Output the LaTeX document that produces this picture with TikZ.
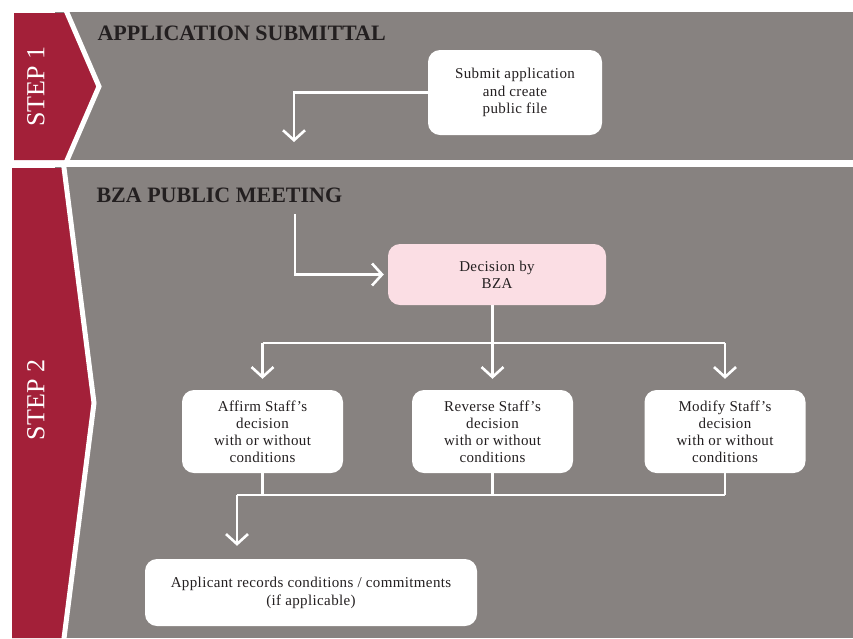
\documentclass[tikz,border=0pt]{standalone}
\usepackage{fontspec}
\setmainfont{Liberation Serif}
\newfontfamily\boxfamily[LetterSpace=2.5]{Liberation Serif}
\usetikzlibrary{arrows.meta}
\definecolor{bggray}{RGB}{135,130,128}
\definecolor{stepred}{RGB}{163,32,57}
\definecolor{pinkbox}{RGB}{251,222,228}
\definecolor{ink}{RGB}{35,31,32}
\newcommand{\boxfont}{\boxfamily\fontsize{15}{17}\selectfont}
\begin{document}
\begin{tikzpicture}[x=1pt,y=-1pt,
  box/.style={fill=white, rounded corners=12pt, align=center, font=\boxfont, text=ink, inner sep=0pt},
  wire/.style={white, line width=2.6pt},
  conn/.style={wire, -{Straight Barb[length=10pt,width=22pt]}},
  steplabel/.style={rotate=90, text=white, font=\fontsize{26}{26}\selectfont},
  title/.style={anchor=base west, text=ink, font=\bfseries\fontsize{22}{22}\selectfont}
]
\useasboundingbox (0,0) rectangle (853,638);
\fill[white] (0,0) rectangle (853,638);
% panels
\fill[bggray] (55,12) rectangle (853,160);
\fill[bggray] (55,167) rectangle (853,638);
% step chevrons
\fill[stepred] (14,13) -- (67,13) -- (99,86.5) -- (67,160) -- (14,160) -- cycle;
\draw[white, line width=5pt] (65,8) -- (99,86.5) -- (65,165);
\fill[stepred] (12,168) -- (64,168) -- (94,403) -- (64,638) -- (12,638) -- cycle;
\draw[white, line width=5pt] (63.4,163) -- (94,403) -- (63.4,643);
\node[steplabel] (step1) at (36,86.5) {STEP 1};
\node[steplabel] (step2) at (36,400) {STEP 2};
% titles
\node[title] (t1) at (94,40) {APPLICATION SUBMITTAL};
\node[title] (t2) at (93,202) {BZA PUBLIC MEETING};
% boxes
\node[box, minimum width=174pt, minimum height=85pt, font=\boxfamily\fontsize{15}{17.5}\selectfont] (submit) at (515,92.5) {Submit application\\and create\\public file};
\node[box, fill=pinkbox, minimum width=218pt, minimum height=61pt] (bza) at (497,274.5) {Decision by\\BZA};
\node[box, minimum width=161pt, minimum height=83pt] (affirm) at (262.5,431.5) {Affirm Staff’s\\decision\\with or without\\conditions};
\node[box, minimum width=161pt, minimum height=83pt] (reverse) at (492.5,431.5) {Reverse Staff’s\\decision\\with or without\\conditions};
\node[box, minimum width=161pt, minimum height=83pt] (modify) at (725,431.5) {Modify Staff’s\\decision\\with or without\\conditions};
\node[box, minimum width=332pt, minimum height=67pt, font=\boxfamily\fontsize{15}{18}\selectfont] (applicant) at (311,592.5) {Applicant records conditions / commitments\\(if applicable)};
% connectors
\coordinate (s1end) at (294,142);
\draw[conn] (submit.west) -| (s1end);
\coordinate (s2start) at (295,214);
\draw[conn, shorten >=4pt] (s2start) |- (bza.west);
\coordinate (split) at (492.5,343);
\draw[conn, shorten >=11pt] (bza.south -| reverse.north) -- (reverse.north);
\draw[wire] (affirm.north |- split) -- (modify.north |- split);
\draw[conn, shorten >=11pt] (affirm.north |- split) -- (affirm.north);
\draw[conn, shorten >=11pt] (modify.north |- split) -- (modify.north);
\coordinate (join) at (237,495);
\draw[wire] (affirm.south) -- (affirm.south |- join);
\draw[wire] (reverse.south) -- (reverse.south |- join);
\draw[wire] (modify.south) -- (modify.south |- join);
\draw[wire] (join) -- (modify.south |- join);
\draw[conn, shorten >=13pt] (join) -- (join |- applicant.north);
\end{tikzpicture}
\end{document}
